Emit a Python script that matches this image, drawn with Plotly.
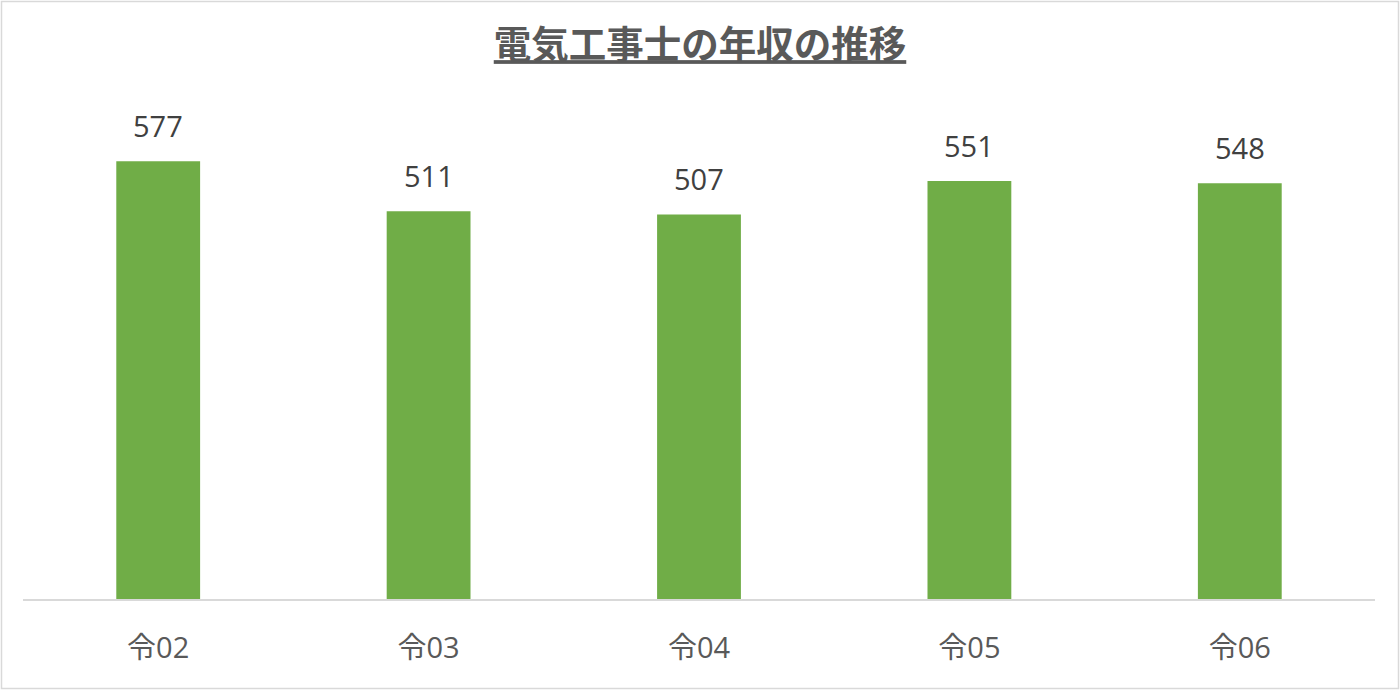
import plotly.graph_objects as go

# data
categories = ["令02", "令03", "令04", "令05", "令06"]
salary = [577, 511, 507, 551, 548]
title_text = "電気工事士の年収の推移"

W, H = 1400, 691
ml, mr, mt, mb = 23, 25, 68, 92

fig = go.Figure(go.Bar(
    x=categories,
    y=salary,
    width=0.31,
    marker=dict(color="#70AD47", line=dict(width=0)),
))

# value labels above bars, with a bigger gap than textposition="outside" gives
for c, v in zip(categories, salary):
    fig.add_annotation(x=c, y=v, text=str(v), showarrow=False,
                       yanchor="bottom", yshift=14,
                       font=dict(size=29, color="#404040",
                                 family="Open Sans, Noto Sans CJK JP"))

# outer chart border (paper coords from pixel positions)
pw, ph = W - ml - mr, H - mt - mb
def px_x(p):
    return (p - ml) / pw
def px_y(p):
    return (H - mb - p) / ph

fig.add_shape(type="rect", xref="paper", yref="paper",
              x0=px_x(1.5), x1=px_x(1398.5), y0=px_y(688.5), y1=px_y(1.5),
              line=dict(color="#D9D9D9", width=1.5), layer="below")

fig.update_layout(
    width=W, height=H,
    margin=dict(l=ml, r=mr, t=mt, b=mb),
    paper_bgcolor="white",
    plot_bgcolor="white",
    showlegend=False,
    title=dict(
        text="<b><u>" + title_text + "</u></b>",
        x=0.5, xanchor="center",
        y=1 - 45 / H, yanchor="middle",
        font=dict(size=37.5, color="#595959", family="Noto Sans CJK JP"),
    ),
    xaxis=dict(
        showline=True, linecolor="#D9D9D9", linewidth=1.5,
        ticks="", showgrid=False,
        tickfont=dict(size=29, color="#595959", family="Open Sans, Noto Sans CJK JP"),
        ticklabelstandoff=22,
    ),
    yaxis=dict(
        range=[0, 700], visible=False, showgrid=False, zeroline=False,
    ),
)

fig.write_html("out.html", config={"displayModeBar": False},
               post_script="document.body.style.margin='0';")
